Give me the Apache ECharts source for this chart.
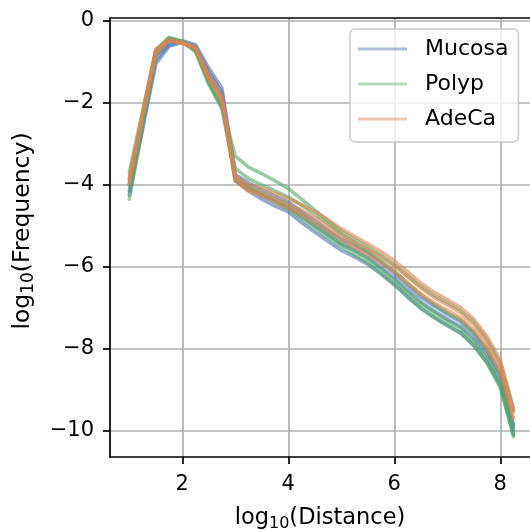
<!DOCTYPE html>
<html><head><meta charset="utf-8">
<script src="https://cdn.jsdelivr.net/npm/echarts@6/dist/echarts.min.js"></script>
<style>html,body{margin:0;padding:0;background:#fff}#c{width:530px;height:530px}</style>
</head><body><div id="c"></div>
<script>
// x positions (log10 distance)
var xs = [1, 1.5, 1.75, 2, 2.25, 2.5, 2.75, 3, 3.25, 3.5, 3.75, 4, 4.25, 4.5, 4.75, 5, 5.25, 5.5, 5.75, 6, 6.25, 6.5, 6.75, 7, 7.25, 7.5, 7.75, 8, 8.25];
var xTicks = [2, 4, 6, 8];
var yTicks = [-10, -8, -6, -4, -2, 0];
var groupNames = ['Mucosa', 'Polyp', 'AdeCa'];

// Mucosa samples
var mucosa1 = [-4.0, -0.85, -0.52, -0.48, -0.58, -1.15, -1.65, -3.75, -3.95, -4.12, -4.27, -4.42, -4.65, -4.87, -5.1, -5.32, -5.48, -5.66, -5.9, -6.16, -6.46, -6.74, -6.96, -7.16, -7.34, -7.64, -8.06, -8.63, -9.9];
var mucosa2 = [-4.15, -0.95, -0.58, -0.5, -0.62, -1.25, -1.75, -3.85, -4.05, -4.25, -4.4, -4.55, -4.78, -5.0, -5.22, -5.45, -5.6, -5.78, -6.02, -6.28, -6.58, -6.86, -7.08, -7.28, -7.46, -7.76, -8.18, -8.75, -10.0];
var mucosa3 = [-4.25, -1.05, -0.62, -0.52, -0.66, -1.32, -1.85, -3.9, -4.15, -4.35, -4.52, -4.66, -4.92, -5.15, -5.38, -5.6, -5.76, -5.94, -6.18, -6.44, -6.74, -7.02, -7.24, -7.44, -7.62, -7.92, -8.34, -8.9, -10.1];
// Polyp samples
var polyp1 = [-3.7, -0.7, -0.4, -0.5, -0.72, -1.5, -2.1, -3.3, -3.57, -3.73, -3.9, -4.09, -4.35, -4.62, -4.88, -5.12, -5.33, -5.52, -5.72, -5.95, -6.22, -6.48, -6.7, -6.88, -7.07, -7.35, -7.78, -8.35, -9.5];
var polyp2 = [-4.0, -0.78, -0.42, -0.5, -0.75, -1.55, -2.15, -3.8, -4.05, -4.2, -4.35, -4.5, -4.72, -4.95, -5.18, -5.4, -5.6, -5.8, -6.05, -6.32, -6.62, -6.9, -7.12, -7.32, -7.5, -7.82, -8.25, -8.85, -10.1];
var polyp3 = [-4.35, -0.85, -0.45, -0.52, -0.7, -1.45, -2.05, -3.9, -4.1, -4.25, -4.42, -4.6, -4.82, -5.05, -5.28, -5.5, -5.7, -5.9, -6.15, -6.42, -6.72, -7.0, -7.22, -7.42, -7.6, -7.92, -8.35, -8.95, -10.15];
var polyp4 = [-3.85, -0.75, -0.42, -0.5, -0.72, -1.5, -2.1, -3.6, -3.85, -4.0, -4.15, -4.3, -4.5, -4.72, -4.95, -5.2, -5.42, -5.62, -5.85, -6.1, -6.4, -6.68, -6.92, -7.12, -7.3, -7.6, -8.02, -8.6, -9.85];
// AdeCa samples
var adeca1 = [-3.85, -0.7, -0.45, -0.52, -0.63, -1.3, -1.85, -3.78, -4.0, -4.08, -4.2, -4.33, -4.48, -4.65, -4.85, -5.07, -5.26, -5.44, -5.63, -5.85, -6.12, -6.4, -6.62, -6.8, -6.99, -7.28, -7.7, -8.27, -9.45];
var adeca2 = [-3.92, -0.74, -0.47, -0.53, -0.66, -1.38, -1.9, -3.85, -4.1, -4.2, -4.33, -4.47, -4.62, -4.8, -5.0, -5.22, -5.4, -5.57, -5.76, -5.98, -6.25, -6.52, -6.75, -6.93, -7.12, -7.42, -7.85, -8.42, -9.55];
var adeca3 = [-3.98, -0.8, -0.48, -0.55, -0.68, -1.42, -1.95, -3.9, -4.15, -4.27, -4.42, -4.57, -4.73, -4.92, -5.12, -5.33, -5.52, -5.7, -5.9, -6.12, -6.4, -6.66, -6.88, -7.06, -7.25, -7.55, -7.98, -8.55, -9.7];

var groups = [
  {name: 'Mucosa', rgb: '76,114,176', lines: [mucosa1, mucosa2, mucosa3]},
  {name: 'Polyp', rgb: '85,168,104', lines: [polyp1, polyp2, polyp3, polyp4]},
  {name: 'AdeCa', rgb: '221,132,82', lines: [adeca1, adeca2, adeca3]}
];

var FONT = 'DejaVu Sans';
var series = [];
groups.forEach(function (g) {
  g.lines.forEach(function (arr) {
    series.push({
      type: 'line', name: g.name, xAxisIndex: 0, yAxisIndex: 0,
      data: xs.map(function (x, i) { return [x, arr[i]]; }),
      symbol: 'none', showSymbol: false, silent: true, animation: false,
      lineStyle: {width: 3.6, color: 'rgba(' + g.rgb + ',0.6)', join: 'round', cap: 'round'}
    });
  });
});

var minus = function (v) { return String(v).replace('-', '\u2212'); };
var richX = {
  n: {fontFamily: FONT, fontSize: 22.5, color: '#000', lineHeight: 27},
  s: {fontFamily: FONT, fontSize: 16, color: '#000', lineHeight: 16, verticalAlign: 'bottom'}
};
var richY = {
  n: {fontFamily: FONT, fontSize: 23.5, color: '#000', lineHeight: 28},
  s: {fontFamily: FONT, fontSize: 17, color: '#000', lineHeight: 17, verticalAlign: 'bottom'}
};

var chart = echarts.init(document.getElementById('c'), null, {renderer: 'canvas'});
chart.setOption({
  animation: false,
  backgroundColor: '#fff',
  grid: {left: 110, right: 0, top: 18, bottom: 73, containLabel: false, outerBoundsMode: 'none'},
  xAxis: [{
    type: 'value', min: 0.636, max: 8.561, position: 'bottom',
    name: '{n|log}{s|10}{n|(Distance)}', nameLocation: 'middle', nameGap: 48,
    nameTextStyle: {rich: richX},
    axisLine: {show: true, onZero: false, lineStyle: {color: '#000', width: 1.7}},
    axisTick: {show: true, length: 7, lineStyle: {color: '#000', width: 1.7}, customValues: xTicks},
    axisLabel: {customValues: xTicks, margin: 17, fontFamily: FONT, fontSize: 21, color: '#000', formatter: minus},
    splitLine: {show: true, lineStyle: {color: '#b0b0b0', width: 1.7}}
  }, {
    type: 'value', min: 0.636, max: 8.561, position: 'top',
    axisLine: {show: true, onZero: false, lineStyle: {color: '#000', width: 1.7}},
    axisTick: {show: false}, axisLabel: {show: false}, splitLine: {show: false}
  }],
  yAxis: [{
    type: 'value', min: -10.646, max: 0.073,
    axisLine: {show: true, onZero: false, lineStyle: {color: '#000', width: 1.7}},
    axisTick: {show: true, length: 7, lineStyle: {color: '#000', width: 1.7}, customValues: yTicks},
    axisLabel: {customValues: yTicks, margin: 16, fontFamily: FONT, fontSize: 21, color: '#000', formatter: minus},
    splitLine: {show: true, lineStyle: {color: '#b0b0b0', width: 1.7}}
  }],
  legend: {
    left: 350, top: 29, orient: 'vertical',
    padding: [9, 10, 12, 8],
    backgroundColor: 'rgba(255,255,255,0.8)', borderColor: '#cccccc', borderWidth: 1.5, borderRadius: 5,
    itemWidth: 49, itemHeight: 3, itemGap: 13,
    textStyle: {fontFamily: FONT, fontSize: 22, color: '#000', padding: [0, 0, 0, 13]},
    data: groups.map(function (g) {
      return {name: g.name, icon: 'rect', itemStyle: {color: 'rgba(' + g.rgb + ',0.45)'}};
    }),
    selectedMode: false, z: 10
  },
  graphic: [{
    type: 'text', x: 23, y: 231, rotation: Math.PI / 2,
    style: {text: '{n|log}{s|10}{n|(Frequency)}', rich: richY, align: 'center', verticalAlign: 'middle'}
  }],
  series: series
});
</script></body></html>
